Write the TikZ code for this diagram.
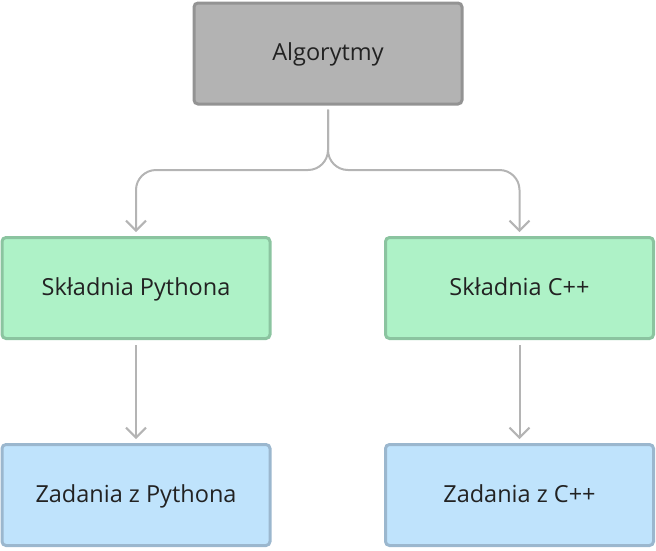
\documentclass[tikz,border=0pt]{standalone}
\usepackage{fontspec}
\setmainfont{Open Sans}
\usetikzlibrary{arrows.meta}
\definecolor{grayfill}{RGB}{179,179,179}
\definecolor{graydraw}{RGB}{147,147,147}
\definecolor{greenfill}{RGB}{174,242,199}
\definecolor{greendraw}{RGB}{139,196,160}
\definecolor{bluefill}{RGB}{191,227,252}
\definecolor{bluedraw}{RGB}{155,183,206}
\definecolor{linkcol}{RGB}{180,180,180}
\definecolor{textcol}{RGB}{34,34,34}
\begin{document}
\begin{tikzpicture}[x=1pt,y=-1pt,
  box/.style={rectangle, rounded corners=4pt, line width=3pt, minimum width=268pt, minimum height=101pt, inner sep=0pt, text height=16pt, text depth=2pt, text=textcol, font=\fontsize{23.5}{26}\selectfont},
  topbox/.style={box, fill=grayfill, draw=graydraw},
  greenbox/.style={box, fill=greenfill, draw=greendraw},
  bluebox/.style={box, fill=bluefill, draw=bluedraw},
  link/.style={draw=linkcol, line width=2pt, -{Straight Barb[length=10pt,width=20pt,line width=2pt]}}
]
\useasboundingbox (0,0) rectangle (656,550);
\node[topbox] (alg) at (328,53.5) {Algorytmy};
\node[greenbox] (py) at (136,288) {Składnia Pythona};
\node[greenbox] (cpp) at (519.5,288) {Składnia C++};
\node[bluebox] (zpy) at (136,495) {Zadania z Pythona};
\node[bluebox] (zcpp) at (519.5,495) {Zadania z C++};
\coordinate (split) at (328,170);
\draw[link, rounded corners=20pt, shorten <=4pt, shorten >=4pt] (alg.south) -- (split) -| (py.north);
\draw[link, rounded corners=20pt, shorten <=4pt, shorten >=4pt] (alg.south) -- (split) -| (cpp.north);
\draw[link, shorten <=5pt, shorten >=4pt] (py.south) -- (zpy.north);
\draw[link, shorten <=5pt, shorten >=4pt] (cpp.south) -- (zcpp.north);
\end{tikzpicture}
\end{document}
